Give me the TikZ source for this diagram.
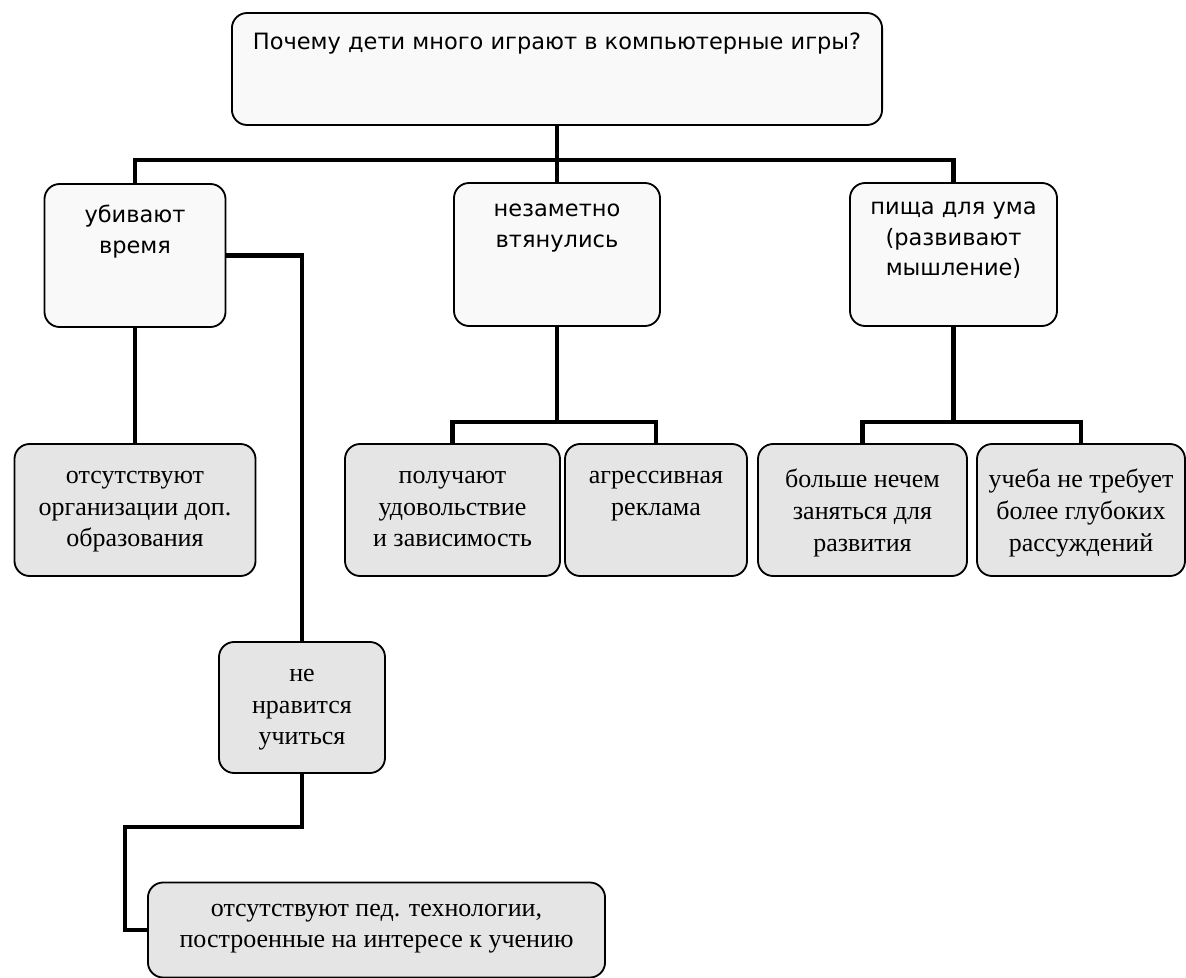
\documentclass[tikz,border=0pt]{standalone}
\usepackage{fontspec}
\setmainfont{Liberation Serif}
\newfontfamily\verdana{DejaVu Sans}
\usetikzlibrary{positioning}
\begin{document}
\begin{tikzpicture}[x=0.025cm,y=-0.025cm]
		\tikzset{frame/.style = {shape=rectangle,draw,rounded corners=0.38cm,line width=1.3pt,inner sep=0pt}}
		\tikzset{upper/.style = {frame,fill=gray!5}}
		\tikzset{lower/.style = {frame,fill=gray!20}}
		\tikzset{sans/.style = {inner sep=0pt,align=center,font=\verdana\fontsize{16}{21.5}\selectfont}}
		\tikzset{serif/.style = {inner sep=0pt,align=center,font=\fontsize{18.5}{22.5}\selectfont}}
		\tikzset{link/.style = {line width=3pt}}
		\useasboundingbox (0,0) rectangle (1186,978);
		\node[upper,minimum width=16.25cm,minimum height=2.8cm] (why) at (557,69) {};
		\node[upper,minimum width=4.525cm,minimum height=3.575cm] (kill) at (135,255.5) {};
		\node[upper,minimum width=5.15cm,minimum height=3.575cm] (drawn) at (557,254.5) {};
		\node[upper,minimum width=5.175cm,minimum height=3.575cm] (food) at (953.5,254.5) {};
		\node[lower,minimum width=6.025cm,minimum height=3.3cm] (noclubs) at (135,510) {};
		\node[lower,minimum width=5.375cm,minimum height=3.3cm] (pleasure) at (452.5,510) {};
		\node[lower,minimum width=4.55cm,minimum height=3.3cm] (ads) at (656,510) {};
		\node[lower,minimum width=5.225cm,minimum height=3.3cm] (nothing) at (862.5,510) {};
		\node[lower,minimum width=5.2cm,minimum height=3.3cm] (study) at (1081,510) {};
		\node[lower,minimum width=4.15cm,minimum height=3.275cm] (dislike) at (302,707.5) {};
		\node[lower,minimum width=11.425cm,minimum height=2.375cm] (notech) at (376.5,930) {};
		\node[sans,below=0.5cm of why.north] (why-t) {Почему дети много играют в компьютерные игры?};
		\node[sans,below=0.55cm of kill.north] (kill-t) {убивают\\время};
		\node[sans,below=0.55cm of drawn.north] (drawn-t) {незаметно\\втянулись};
		\node[sans,below=0.5cm of food.north] (food-t) {пища для ума\\(развивают\\мышление)};
		\node[serif,below=0.7cm of noclubs.north] (noclubs-t) {отсутствуют\\организации доп.\\образования};
		\node[serif,below=0.7cm of pleasure.north] (pleasure-t) {получают\\удовольствие\\и зависимость};
		\node[serif,below=0.7cm of ads.north] (ads-t) {агрессивная\\реклама};
		\node[serif,below=0.65cm of nothing.north] (nothing-t) {больше нечем\\заняться для\\развития};
		\node[serif,below=0.65cm of study.north] (study-t) {учеба не требует\\более глубоких\\рассуждений};
		\node[serif,below=0.7cm of dislike.north] (dislike-t) {не\\нравится\\учиться};
		\node[serif,below=0.55cm of notech.north] (notech-t) {отсутствуют пед. технологии,\\построенные на интересе к учению};
		\coordinate (fork1) at (557,160);
		\coordinate (fork2) at (557,422);
		\coordinate (fork3) at (953.5,422);
		\coordinate (bend) at (125,827);
		\draw[link] (why) -- (fork1) -| (kill);
		\draw[link] (fork1) -| (food);
		\draw[link] (fork1) -- (drawn);
		\draw[link] (kill) -- (noclubs);
		\draw[link] (kill.east) -| (dislike);
		\draw[link] (drawn) -- (fork2) -| (pleasure);
		\draw[link] (fork2) -| (ads);
		\draw[link] (food) -- (fork3) -| (nothing);
		\draw[link] (fork3) -| (study);
		\draw[link] (dislike) |- (bend) |- (notech.west);
	\end{tikzpicture}
\end{document}
